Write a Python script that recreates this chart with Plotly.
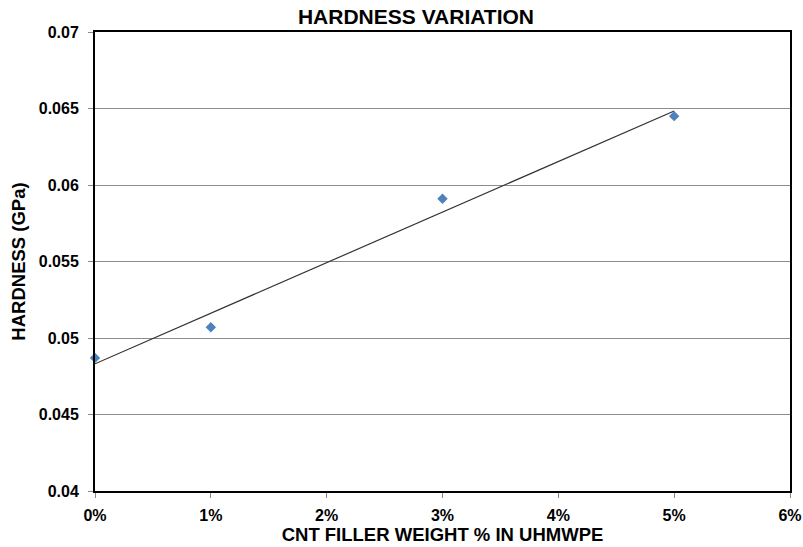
import numpy as np
import plotly.graph_objects as go

cnt_pct = [0, 1, 3, 5]
hardness = [0.0487, 0.0507, 0.0591, 0.0645]
x_ticks = [0, 1, 2, 3, 4, 5, 6]
x_tick_labels = ["0%", "1%", "2%", "3%", "4%", "5%", "6%"]
y_ticks = [0.04, 0.045, 0.05, 0.055, 0.06, 0.065, 0.07]
y_tick_labels = ["0.04", "0.045", "0.05", "0.055", "0.06", "0.065", "0.07"]

slope, intercept = np.polyfit(cnt_pct, hardness, 1)
trend_x = [min(cnt_pct), max(cnt_pct)]
trend_y = [intercept + slope * v for v in trend_x]

font = "Liberation Sans, Arial, sans-serif"
tickfont = dict(family=font, size=16, color="black", weight="bold")
titlefont = dict(family=font, size=18.5, color="black", weight="bold")

W, H = 803, 547

fig = go.Figure()
fig.add_trace(go.Scatter(x=trend_x, y=trend_y, mode="lines",
                         line=dict(color="#333333", width=1.2), showlegend=False))
fig.add_trace(go.Scatter(x=cnt_pct, y=hardness, mode="markers",
                         marker=dict(symbol="diamond", size=8, color="#4F81BD"),
                         showlegend=False, cliponaxis=False))

fig.update_layout(
    width=W, height=H,
    margin=dict(l=95, r=13, t=32, b=56),
    paper_bgcolor="white", plot_bgcolor="white",
    title=dict(text="HARDNESS VARIATION", x=(300 + 532) / 2 / W, xanchor="center",
               y=1 - 17 / H, yanchor="middle", xref="container", yref="container",
               font=dict(family=font, size=21, color="black", weight="bold")),
    xaxis=dict(range=[0, 6], tickvals=x_ticks, ticktext=x_tick_labels,
               showgrid=False, zeroline=False, showline=True, linecolor="black",
               linewidth=2, mirror=True, ticks="outside", ticklen=5,
               tickcolor="#888888", tickfont=tickfont, automargin=False,
               ticklabelstandoff=4,
               title=dict(text="CNT FILLER WEIGHT % IN UHMWPE", standoff=0,
                          font=titlefont)),
    yaxis=dict(range=[0.04, 0.07], tickvals=y_ticks, ticktext=y_tick_labels,
               showgrid=True, gridcolor="#8c8c8c", gridwidth=1, zeroline=False,
               showline=True, linecolor="black", linewidth=2, mirror=True,
               ticks="outside", ticklen=5, tickcolor="#888888",
               tickfont=tickfont, automargin=False, ticklabelstandoff=6,
               title=dict(text="HARDNESS (GPa)", standoff=8, font=titlefont)),
)

fig.write_html("out.html", config={"displayModeBar": False},
               post_script="document.body.style.margin='0';document.body.style.overflow='hidden';")
